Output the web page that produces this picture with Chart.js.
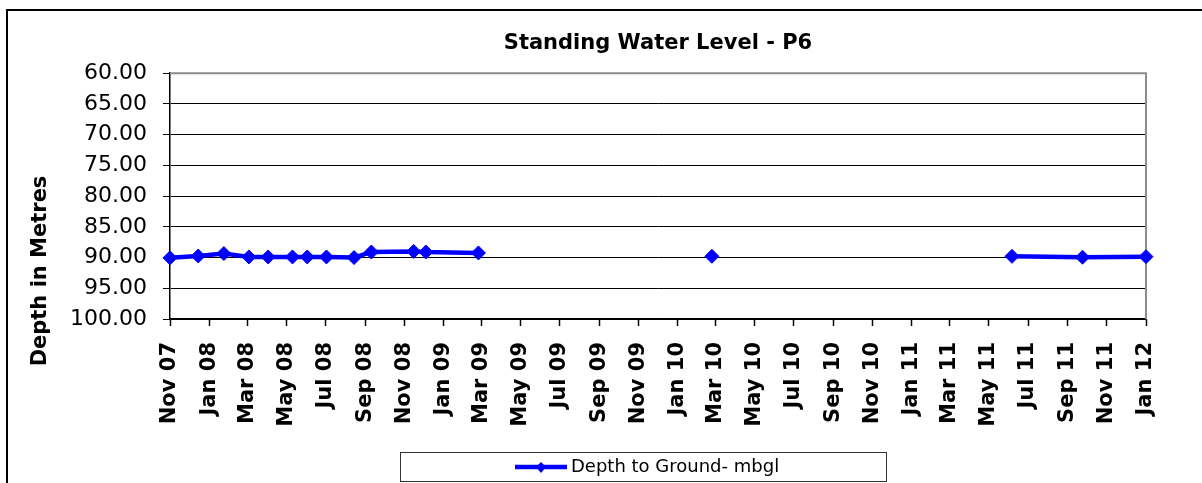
<!DOCTYPE html>
<html>
<head>
<meta charset="utf-8">
<title>Standing Water Level - P6</title>
<script src="https://cdn.jsdelivr.net/npm/chart.js@4.4.0/dist/chart.umd.min.js"></script>
<style>
  html, body { margin: 0; padding: 0; background: #fff; overflow: hidden; }
  #chart { display: block; }
</style>
</head>
<body>
<canvas id="chart" width="1202" height="483"></canvas>
<script>
// Reading dates (null depth = no reading, the line breaks there)
const readDates = [
  "2007-11-01", "2007-12-15", "2008-01-24", "2008-03-03", "2008-04-02",
  "2008-05-10", "2008-06-02", "2008-07-02", "2008-08-14", "2008-09-10",
  "2008-11-15", "2008-12-04", "2009-02-24", "2009-08-01", "2010-02-23",
  "2010-09-01", "2011-06-06", "2011-09-24", "2012-01-01"
];
// Depth to ground (mbgl)
const depths = [
  90.05, 89.75, 89.35, 89.9, 89.9,
  89.9, 89.9, 89.9, 90.0, 89.1,
  89.0, 89.1, 89.25, null, 89.8,
  null, 89.8, 89.95, 89.85
];
const seriesName = "Depth to Ground- mbgl";
const chartTitle = "Standing Water Level - P6";
const yTitle = "Depth in Metres";

// Axis tick labels
const xTickLabels = [
  "Nov 07", "Jan 08", "Mar 08", "May 08", "Jul 08", "Sep 08", "Nov 08",
  "Jan 09", "Mar 09", "May 09", "Jul 09", "Sep 09", "Nov 09", "Jan 10",
  "Mar 10", "May 10", "Jul 10", "Sep 10", "Nov 10", "Jan 11", "Mar 11",
  "May 11", "Jul 11", "Sep 11", "Nov 11", "Jan 12"
];
const yTickValues = [60, 65, 70, 75, 80, 85, 90, 95, 100];

const MONTHS = { Jan: 0, Feb: 1, Mar: 2, Apr: 3, May: 4, Jun: 5, Jul: 6, Aug: 7, Sep: 8, Oct: 9, Nov: 10, Dec: 11 };

// Days since epoch, so the x axis can be a plain linear scale
function dayOf(iso) {
  return Date.parse(iso) / 86400000;
}
function dayOfLabel(label) {
  const [mon, yy] = label.split(" ");
  return Date.UTC(2000 + Number(yy), MONTHS[mon], 1) / 86400000;
}

const points = readDates.map((d, i) => ({ x: dayOf(d), y: depths[i] }));
const xTickDays = xTickLabels.map(dayOfLabel);

const FONT = "'DejaVu Sans', 'Liberation Sans', Arial, sans-serif";

// Frame, plot border, rotated y title and the boxed legend
const decor = {
  id: "decor",
  beforeDraw(chart) {
    const ctx = chart.ctx;
    ctx.save();
    ctx.fillStyle = "#fff";
    ctx.fillRect(0, 0, chart.width, chart.height);
    ctx.strokeStyle = "#000";
    ctx.lineWidth = 2;
    ctx.strokeRect(7, 10, chart.width + 40, chart.height + 40);
    ctx.restore();
  },
  beforeDatasetsDraw(chart) {
    const { ctx, chartArea: a } = chart;
    ctx.save();
    ctx.strokeStyle = "#8c8c8c";
    ctx.lineWidth = 2;
    ctx.beginPath();
    ctx.moveTo(a.left, a.top);
    ctx.lineTo(a.right, a.top);
    ctx.lineTo(a.right, a.bottom);
    ctx.stroke();
    ctx.restore();
  },
  afterDraw(chart) {
    const ctx = chart.ctx;
    const ds = chart.data.datasets[0];
    ctx.save();

    // y axis title
    ctx.translate(41, 271);
    ctx.rotate(-Math.PI / 2);
    ctx.font = "bold 21px " + FONT;
    ctx.fillStyle = "#000";
    ctx.textAlign = "center";
    ctx.textBaseline = "middle";
    ctx.fillText(yTitle, 0, 0);
    ctx.setTransform(1, 0, 0, 1, 0, 0);

    // legend box
    ctx.strokeStyle = "#333";
    ctx.lineWidth = 1;
    ctx.strokeRect(400.5, 452.5, 486, 29);
    ctx.strokeStyle = ds.borderColor;
    ctx.lineWidth = 4.5;
    ctx.beginPath();
    ctx.moveTo(515, 467);
    ctx.lineTo(567, 467);
    ctx.stroke();
    ctx.fillStyle = ds.borderColor;
    ctx.beginPath();
    ctx.moveTo(541, 462);
    ctx.lineTo(546, 467);
    ctx.lineTo(541, 473);
    ctx.lineTo(536, 467);
    ctx.closePath();
    ctx.fill();
    ctx.fillStyle = "#000";
    ctx.font = "18px " + FONT;
    ctx.textAlign = "left";
    ctx.textBaseline = "middle";
    ctx.fillText(ds.label, 571, 467);
    ctx.restore();
  }
};

new Chart(document.getElementById("chart"), {
  type: "line",
  data: {
    datasets: [{
      label: seriesName,
      data: points,
      borderColor: "#0000ff",
      backgroundColor: "#0000ff",
      borderWidth: 4.5,
      pointStyle: "rectRot",
      pointRadius: 7,
      pointBorderWidth: 1,
      tension: 0,
      spanGaps: false,
      clip: false
    }]
  },
  options: {
    responsive: false,
    animation: false,
    layout: { padding: { left: 0, right: 56, top: 0, bottom: 0 } },
    plugins: {
      legend: { display: false },
      tooltip: { enabled: false },
      title: {
        display: true,
        text: chartTitle,
        fullSize: false,
        color: "#000",
        font: { family: FONT, size: 21, weight: "bold", lineHeight: 1.2 },
        padding: { top: 31, bottom: 17 }
      }
    },
    scales: {
      x: {
        type: "linear",
        min: xTickDays[0],
        max: xTickDays[xTickDays.length - 1],
        afterBuildTicks: (scale) => {
          scale.ticks = xTickDays.map((v) => ({ value: v }));
        },
        afterFit: (scale) => { scale.height = 164; },
        grid: {
          drawOnChartArea: false,
          drawTicks: true,
          tickLength: 7,
          tickColor: "#000",
          tickWidth: 1.5
        },
        border: { color: "#000", width: 1.5 },
        ticks: {
          autoSkip: false,
          minRotation: 90,
          maxRotation: 90,
          padding: 16,
          color: "#000",
          font: { family: FONT, size: 21, weight: "bold" },
          callback: (v, i) => xTickLabels[i]
        }
      },
      y: {
        type: "linear",
        reverse: true,
        min: yTickValues[0],
        max: yTickValues[yTickValues.length - 1],
        afterBuildTicks: (scale) => {
          scale.ticks = yTickValues.map((v) => ({ value: v }));
        },
        afterFit: (scale) => { scale.width = 170; },
        grid: {
          color: "#000",
          lineWidth: 1,
          tickLength: 7,
          tickColor: "#000"
        },
        border: { color: "#000", width: 1.5 },
        ticks: {
          padding: 16,
          color: "#000",
          font: { family: FONT, size: 22 },
          callback: (v) => Number(v).toFixed(2)
        }
      }
    }
  },
  plugins: [decor]
});
</script>
</body>
</html>
